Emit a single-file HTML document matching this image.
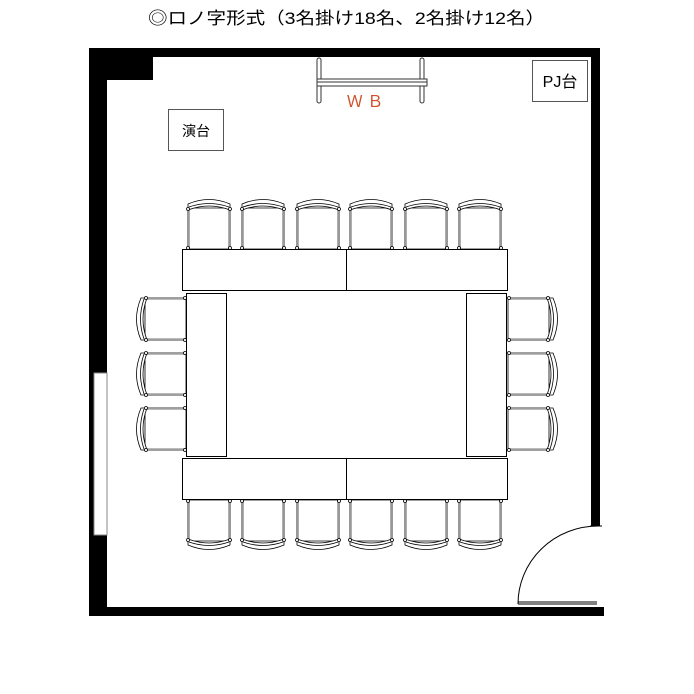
<!DOCTYPE html>
<html><head><meta charset="utf-8"><style>
html,body{margin:0;padding:0;background:#fff;width:694px;height:694px;overflow:hidden}
svg{display:block}
text{font-family:"Liberation Sans","Noto Sans CJK JP",sans-serif}
</style></head><body>
<svg width="694" height="694" viewBox="0 0 694 694" xmlns="http://www.w3.org/2000/svg">
<defs>
<g id="ch" fill="#fff" stroke="#000" stroke-width="0.8">
<path d="M1,11 L1,52 L43,52 L43,11 Z"/>
<path d="M1,13 L1,7 Q22,-2 43,7 L43,13 Q22,5 1,13 Z"/>
<path d="M2,10 Q22,3 42,10" fill="none"/>
<line x1="2.5" y1="12" x2="2.5" y2="51" stroke="#777" stroke-width="0.6"/>
<line x1="41.5" y1="12" x2="41.5" y2="51" stroke="#777" stroke-width="0.6"/>
<circle cx="1" cy="12" r="1.5"/><circle cx="43" cy="12" r="1.5"/>
<circle cx="1" cy="51" r="1.5"/><circle cx="43" cy="51" r="1.5"/>
</g>
</defs>
<text x="148" y="24" font-size="17" textLength="397" lengthAdjust="spacingAndGlyphs">◎ロノ字形式（3名掛け18名、2名掛け12名）</text>
<!-- walls -->
<rect x="89" y="48" width="511" height="9" fill="#000"/>
<rect x="89" y="48" width="64" height="32" fill="#000"/>
<rect x="89" y="48" width="18" height="568" fill="#000"/>
<rect x="591" y="48" width="9" height="478" fill="#000"/>
<rect x="107" y="607" width="497" height="9" fill="#000"/>
<rect x="94" y="373" width="13" height="162" fill="#fff" stroke="#888" stroke-width="1"/>
<!-- door -->
<path d="M518,604 A80,78 0 0 1 598,526" fill="none" stroke="#000" stroke-width="1"/>
<line x1="518" y1="604" x2="597" y2="604" stroke="#000"/>
<line x1="518" y1="602" x2="597" y2="602" stroke="#000"/>
<line x1="590" y1="526" x2="602" y2="526" stroke="#000"/>
<!-- WB -->
<g fill="#fff" stroke="#333" stroke-width="1">
<rect x="317" y="58" width="4" height="45" rx="2"/>
<rect x="420" y="58" width="4" height="45" rx="2"/>
<rect x="317" y="79" width="110" height="7"/>
<line x1="317" y1="82" x2="427" y2="82"/>
</g>
<text x="365" y="107" font-size="16" fill="#d05028" text-anchor="middle">Ｗ Ｂ</text>
<!-- boxes -->
<rect x="168.5" y="109.5" width="55" height="41" fill="#fff" stroke="#555"/>
<text x="196" y="136" font-size="14" text-anchor="middle">演台</text>
<rect x="532.5" y="60.5" width="55" height="41" fill="#fff" stroke="#555"/>
<text x="560" y="87" font-size="16" text-anchor="middle">PJ台</text>
<!-- chairs top -->
<use href="#ch" x="187" y="197"/><use href="#ch" x="241" y="197"/><use href="#ch" x="296" y="197"/>
<use href="#ch" x="349" y="197"/><use href="#ch" x="404" y="197"/><use href="#ch" x="458" y="197"/>
<!-- chairs bottom -->
<g transform="translate(0,751) scale(1,-1)">
<use href="#ch" x="187" y="199"/><use href="#ch" x="241" y="199"/><use href="#ch" x="296" y="199"/>
<use href="#ch" x="349" y="199"/><use href="#ch" x="404" y="199"/><use href="#ch" x="458" y="199"/>
</g>
<g transform="translate(134,341) rotate(-90)"><use href="#ch" x="0" y="0"/></g>
<g transform="translate(134,396) rotate(-90)"><use href="#ch" x="0" y="0"/></g>
<g transform="translate(134,451) rotate(-90)"><use href="#ch" x="0" y="0"/></g>
<g transform="translate(560,297) rotate(90)"><use href="#ch" x="0" y="0"/></g>
<g transform="translate(560,352) rotate(90)"><use href="#ch" x="0" y="0"/></g>
<g transform="translate(560,407) rotate(90)"><use href="#ch" x="0" y="0"/></g>
<!-- tables -->
<g fill="#fff" stroke="#000" stroke-width="1">
<rect x="182.5" y="249.5" width="164" height="41"/>
<rect x="346.5" y="249.5" width="161" height="41"/>
<rect x="182.5" y="458.5" width="164" height="41"/>
<rect x="346.5" y="458.5" width="161" height="41"/>
<rect x="186.5" y="293.5" width="40" height="163"/>
<rect x="466.5" y="293.5" width="40" height="163"/>
</g>
</svg>
</body></html>
